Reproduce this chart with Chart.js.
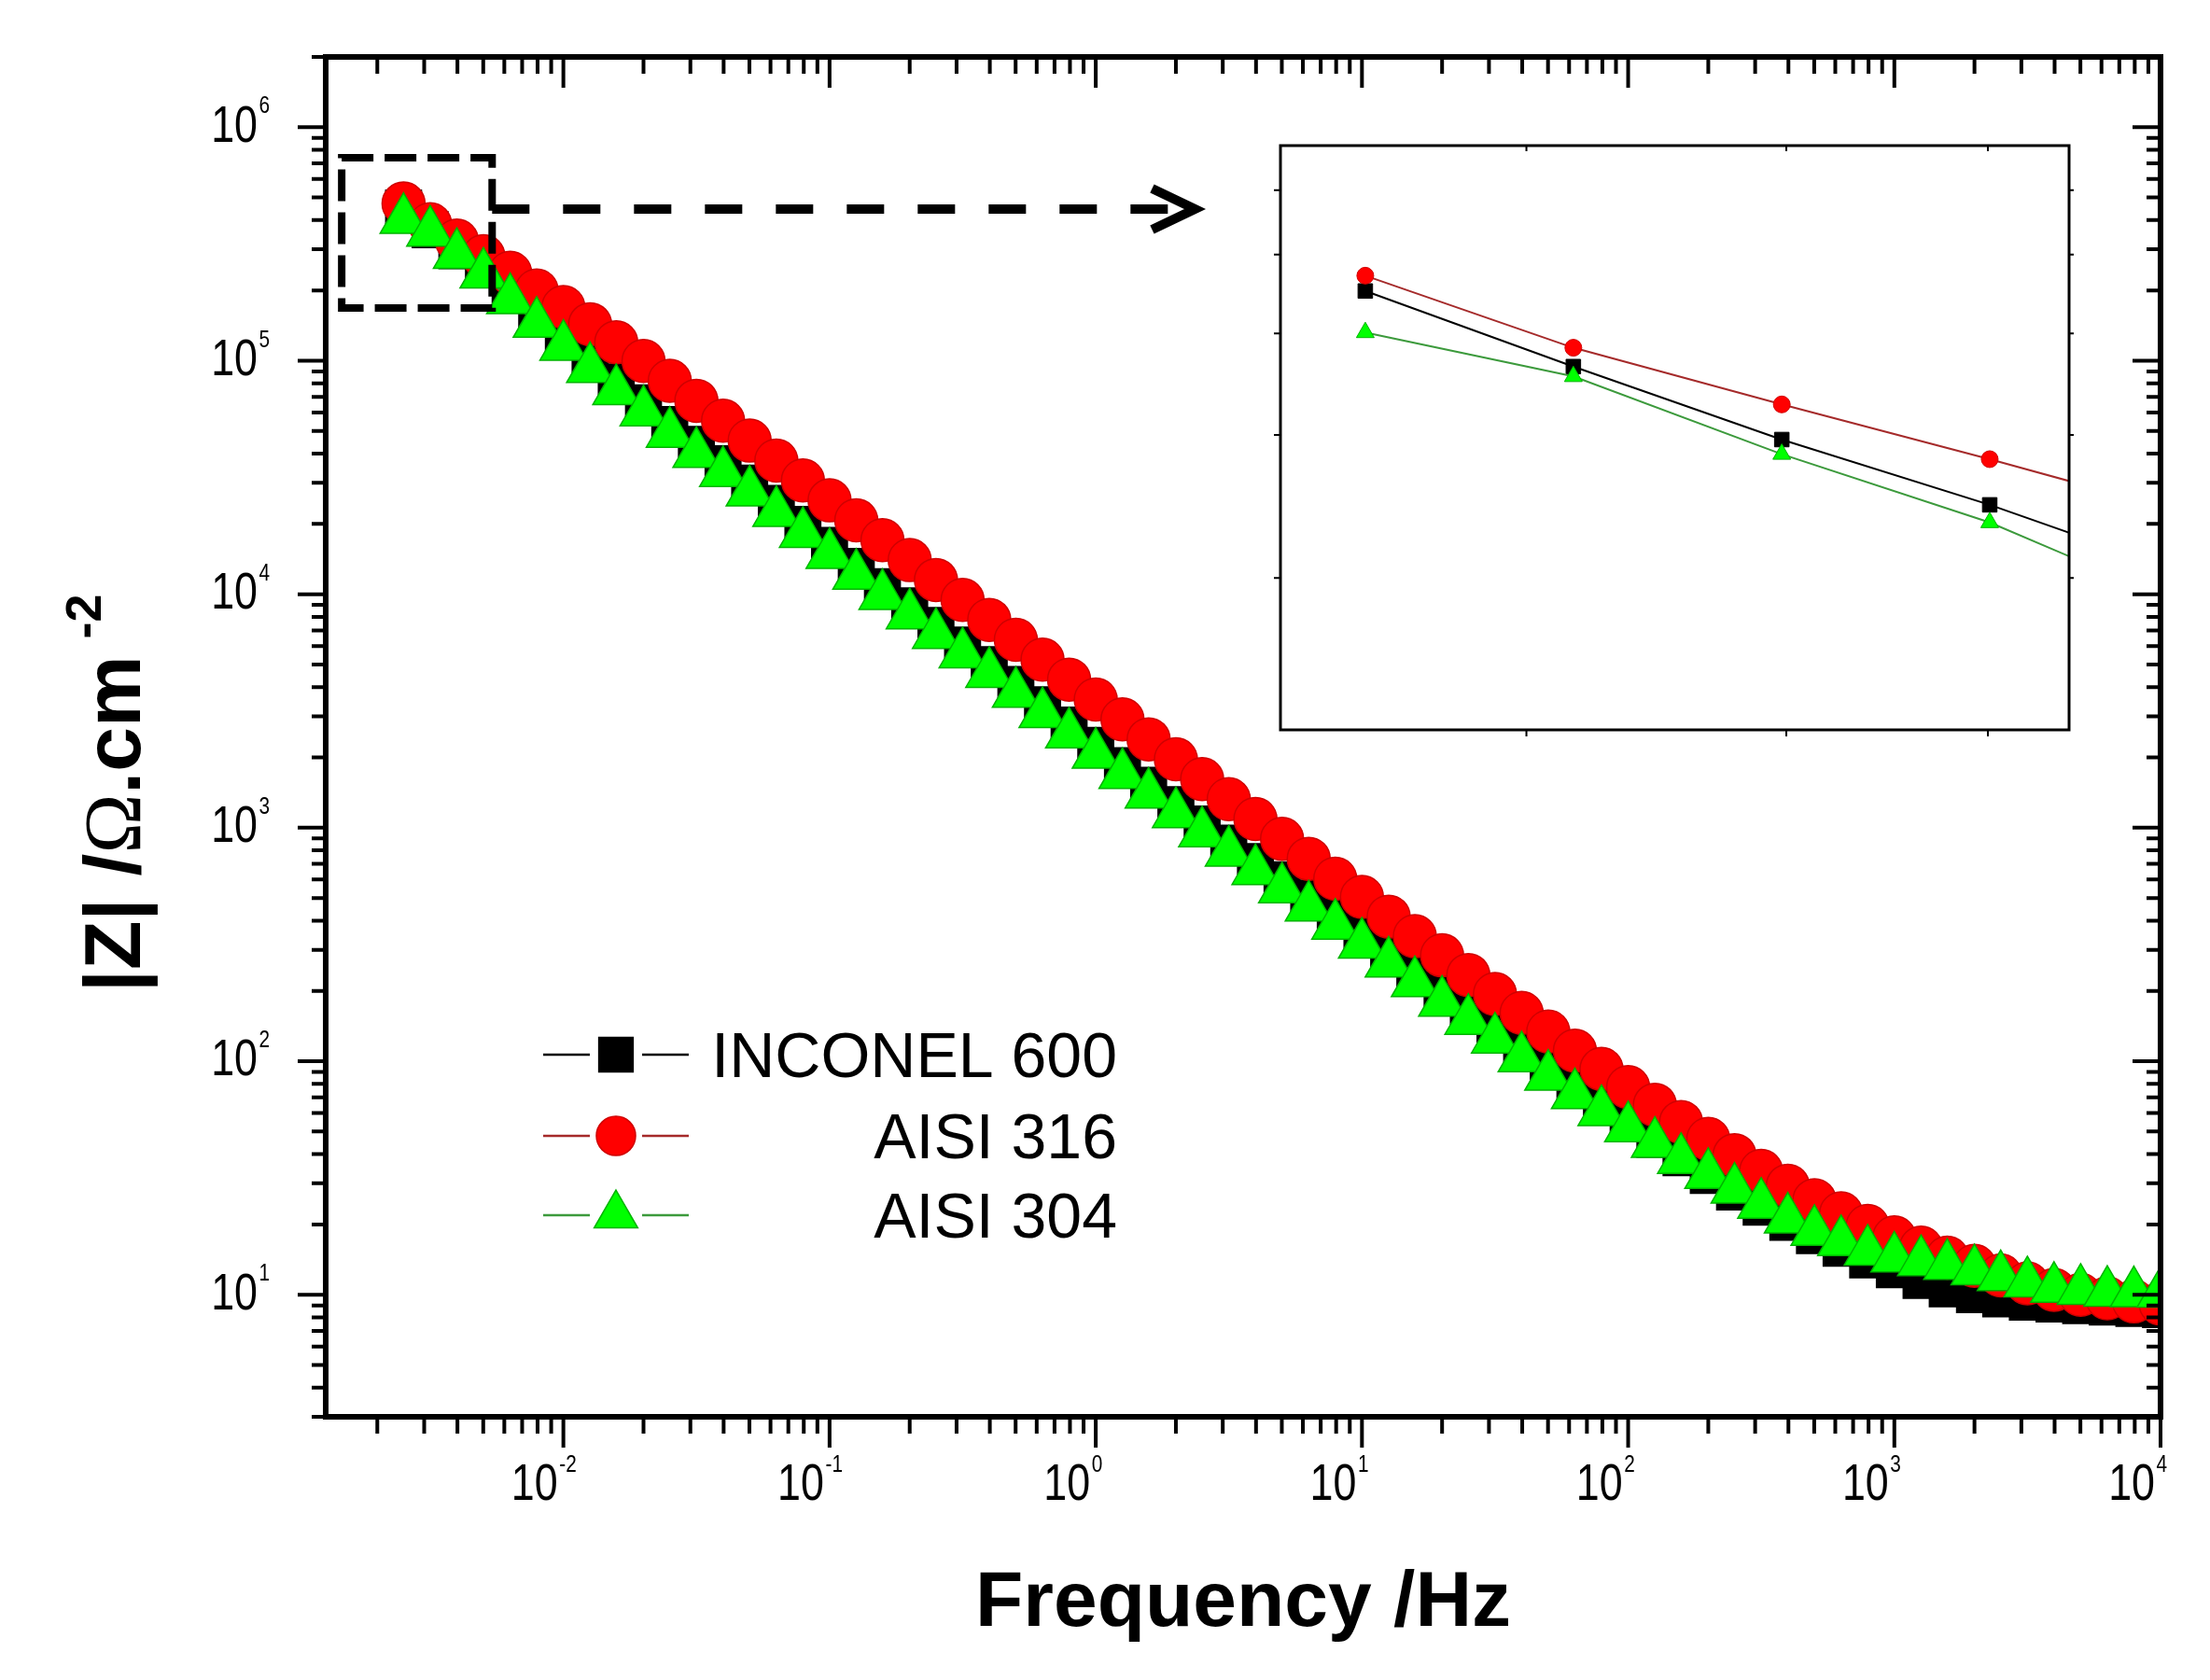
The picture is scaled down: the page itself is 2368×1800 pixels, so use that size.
<!DOCTYPE html>
<html>
<head>
<meta charset="utf-8">
<script src="https://cdn.jsdelivr.net/npm/chart.js@4.4.0/dist/chart.umd.min.js"></script>
<style>
html, body { margin: 0; padding: 0; background: #fff; }
#wrap { position: relative; width: 2368px; height: 1800px; }
#mainBox { position: absolute; left: 0; top: 0; width: 2368px; height: 1800px; }
#insetBox { position: absolute; left: 1342px; top: 126px; width: 905px; height: 686px; }
</style>
</head>
<body>
<div id="wrap">
  <div id="mainBox"><canvas id="mainChart"></canvas></div>
  <div id="insetBox"><canvas id="insetChart"></canvas></div>
</div>
<script>
// 頻率 (Hz)
var frequency = [0.00251, 0.00316, 0.00398, 0.00501, 0.00631, 0.00794, 0.01, 0.0126, 0.0158, 0.02,
  0.0251, 0.0316, 0.0398, 0.0501, 0.0631, 0.0794, 0.1, 0.126, 0.158, 0.2,
  0.251, 0.316, 0.398, 0.501, 0.631, 0.794, 1, 1.26, 1.58, 2,
  2.51, 3.16, 3.98, 5.01, 6.31, 7.94, 10, 12.6, 15.8, 20,
  25.1, 31.6, 39.8, 50.1, 63.1, 79.4, 100, 126, 158, 200,
  251, 316, 398, 501, 631, 794, 1000, 1260, 1580, 2000,
  2510, 3160, 3980, 5010, 6310, 7940, 10000];

// |Z| (Ω.cm-2)
var inconel600 = [451000, 364000, 296000, 246000, 200000, 158000, 125600, 101100, 81200, 66100,
  53300, 43800, 36200, 29900, 24500, 19900, 16180, 13150, 10780, 8911,
  7345, 6066, 5000, 4110, 3365, 2754, 2254, 1845, 1520, 1255,
  1038, 859, 716, 599, 500, 418, 347, 287, 237, 196,
  162, 135, 113, 94.1, 78.5, 65.6, 55.2, 46.3, 38.6, 32.4,
  27.5, 23.7, 20.4, 17.9, 15.8, 14.1, 12.8, 11.5, 10.6, 10.0,
  9.59, 9.29, 9.12, 8.97, 8.85, 8.73, 8.63];

var aisi316 = [471000, 384000, 327000, 280000, 238000, 200000, 169700, 143300, 119900, 99740,
  81980, 67360, 55350, 45480, 37370, 30700, 25230, 20730, 17030, 14000,
  11510, 9451, 7766, 6381, 5244, 4309, 3540, 2909, 2391, 1965,
  1615, 1326, 1090, 896, 736, 605, 505, 416, 343, 284,
  234, 194, 161, 134, 111, 92.6, 77.5, 65.1, 54.9, 46.5,
  39.6, 33.9, 29.3, 25.4, 22.3, 19.7, 17.6, 15.9, 14.4, 13.3,
  12.1, 11.2, 10.5, 10.0, 9.65, 9.36, 9.17];

var aisi304 = [401000, 354000, 284000, 234000, 182000, 144000, 114800, 92200, 74100, 60200,
  48700, 39900, 33030, 27280, 22330, 18150, 14750, 12000, 9839, 8127,
  6698, 5532, 4560, 3749, 3069, 2512, 2055, 1683, 1386, 1145,
  946, 783, 653, 545, 456, 381, 316, 262, 216, 178,
  149, 124, 103, 85.9, 71.6, 60.6, 51.7, 44.3, 37.8, 32.6,
  28.2, 24.3, 21.0, 18.6, 16.8, 15.3, 14.3, 13.8, 13.3, 12.6,
  11.9, 11.2, 10.6, 10.4, 10.2, 10.15, 10.1];

var seriesNames = ['INCONEL 600', 'AISI 316', 'AISI 304'];

// 刻度
var xDecades = [-3, -2, -1, 0, 1, 2, 3, 4];
var yDecades = [0, 1, 2, 3, 4, 5, 6];
var xLabelDecades = [-2, -1, 0, 1, 2, 3, 4];
var yLabelDecades = [1, 2, 3, 4, 5, 6];

// 放大圖 (前幾個點)
var insetCount = 6;
var insetXTicks = [0.003, 0.004, 0.005];
var insetYTicks = [200000, 300000, 400000, 500000, 600000];

// 虛線框與箭頭 (資料座標)
var zoomBoxX = [0.00147, 0.0054];
var zoomBoxY = [168000, 740000];
var arrowY = 446000;
var arrowTipX = 2.36;

var styles = [
  { line: '#000000', fill: '#000000', edge: '#000000', shape: 'rect', r: 27, lr: 26, ir: 11 },
  { line: '#a52a2a', fill: '#ff0000', edge: '#d00000', shape: 'circle', r: 23, lr: 21, ir: 9 },
  { line: '#3c9a3c', fill: '#00ff00', edge: '#00b400', shape: 'triangle', r: 29, lr: 27, ir: 11 }
];
var seriesData = [inconel600, aisi316, aisi304];
var seriesOrder = [2, 1, 0];

function points(vals, n) {
  var out = [];
  for (var i = 0; i < (n || vals.length); i++) out.push({ x: frequency[i], y: vals[i] });
  return out;
}

function niceTicks(decades, min, max) {
  var out = [];
  decades.forEach(function (e) {
    for (var m = 1; m <= 9; m++) {
      var v = m * Math.pow(10, e);
      if (v >= min * 0.9999 && v <= max * 1.0001) out.push({ v: v, major: m === 1 });
    }
  });
  return out;
}

// 畫 10 的次方標籤
function drawPow(ctx, exp, x, y) {
  ctx.save();
  ctx.translate(x, y);
  ctx.scale(0.8, 1);
  ctx.fillStyle = '#000';
  ctx.textBaseline = 'middle';
  ctx.font = '56px "Liberation Sans", Arial, sans-serif';
  ctx.textAlign = 'right';
  ctx.fillText('10', 0, 0);
  ctx.textAlign = 'left';
  ctx.font = '26px "Liberation Sans", Arial, sans-serif';
  ctx.fillText(String(exp), 2, -22);
  ctx.restore();
}

var mainDecor = {
  id: 'mainDecor',
  afterDraw: function (chart) {
    var ctx = chart.ctx, a = chart.chartArea;
    var xs = chart.scales.x, ys = chart.scales.y;
    ctx.save();

    // 框線
    ctx.strokeStyle = '#000';
    ctx.lineWidth = 6;
    ctx.strokeRect(a.left, a.top, a.right - a.left, a.bottom - a.top);

    // x 刻度: 下方朝外, 上方朝內
    ctx.lineWidth = 4;
    niceTicks(xDecades, xs.min, xs.max).forEach(function (t) {
      var px = xs.getPixelForValue(t.v);
      var len = t.major ? 33 : 18;
      ctx.beginPath();
      ctx.moveTo(px, a.bottom); ctx.lineTo(px, a.bottom + len);
      ctx.moveTo(px, a.top); ctx.lineTo(px, a.top + len);
      ctx.stroke();
    });
    // y 刻度: 左方朝外, 右方朝內
    niceTicks(yDecades, ys.min, ys.max).forEach(function (t) {
      var py = ys.getPixelForValue(t.v);
      var len = t.major ? 30 : 15;
      ctx.beginPath();
      ctx.moveTo(a.left, py); ctx.lineTo(a.left - len, py);
      ctx.moveTo(a.right, py); ctx.lineTo(a.right - len, py);
      ctx.stroke();
    });

    xLabelDecades.forEach(function (e) {
      drawPow(ctx, e, xs.getPixelForValue(Math.pow(10, e)) - 6, a.bottom + 74);
    });
    yLabelDecades.forEach(function (e) {
      drawPow(ctx, e, a.left - 73, ys.getPixelForValue(Math.pow(10, e)));
    });

    // 軸標題
    ctx.fillStyle = '#000';
    ctx.font = 'bold 84px "Liberation Sans", Arial, sans-serif';
    ctx.textAlign = 'center';
    ctx.textBaseline = 'alphabetic';
    ctx.fillText('Frequency /Hz', (a.left + a.right) / 2, 1742);

    ctx.save();
    ctx.translate(150, 1063);
    ctx.rotate(-Math.PI / 2);
    ctx.textAlign = 'left';
    var cx = 0;
    var parts = [
      ['|Z| /', 'bold 86px "Liberation Sans", Arial, sans-serif', 0],
      ['\u03A9', '86px "Liberation Serif", "Times New Roman", serif', 0],
      ['.cm', 'bold 86px "Liberation Sans", Arial, sans-serif', 0],
      ['-2', 'bold 54px "Liberation Sans", Arial, sans-serif', -42]
    ];
    parts.forEach(function (p) {
      ctx.font = p[1];
      if (p[2]) cx += 18;
      ctx.fillText(p[0], cx, p[2]);
      cx += ctx.measureText(p[0]).width;
    });
    ctx.restore();

    // 圖例
    var rowsY = [1130, 1217, 1302];
    styles.forEach(function (s, i) {
      var y = rowsY[i];
      ctx.strokeStyle = s.line;
      ctx.lineWidth = 2.5;
      ctx.beginPath();
      ctx.moveTo(582, y); ctx.lineTo(632, y);
      ctx.moveTo(688, y); ctx.lineTo(738, y);
      ctx.stroke();
      ctx.fillStyle = s.fill;
      ctx.strokeStyle = s.edge;
      ctx.lineWidth = 1.5;
      Chart.helpers.drawPoint(ctx, { pointStyle: s.shape, radius: s.lr, rotation: 0, borderWidth: 1.5 }, 660, y);
      ctx.fillStyle = '#000';
      ctx.font = '68px "Liberation Sans", Arial, sans-serif';
      ctx.textAlign = 'right';
      ctx.textBaseline = 'alphabetic';
      ctx.fillText(seriesNames[i], 1197, y + 24);
    });

    // 虛線框與箭頭
    var bx0 = xs.getPixelForValue(zoomBoxX[0]), bx1 = xs.getPixelForValue(zoomBoxX[1]);
    var by0 = ys.getPixelForValue(zoomBoxY[1]), by1 = ys.getPixelForValue(zoomBoxY[0]);
    ctx.strokeStyle = '#000';
    ctx.lineWidth = 8;
    ctx.setLineDash([34, 12]);
    ctx.strokeRect(bx0, by0, bx1 - bx0, by1 - by0);
    var ay = ys.getPixelForValue(arrowY), tipX = xs.getPixelForValue(arrowTipX);
    ctx.lineWidth = 10;
    ctx.setLineDash([40, 36]);
    ctx.beginPath();
    ctx.moveTo(bx1, ay); ctx.lineTo(tipX - 14, ay);
    ctx.stroke();
    ctx.setLineDash([]);
    ctx.beginPath();
    ctx.moveTo(tipX - 46, ay - 22); ctx.lineTo(tipX, ay); ctx.lineTo(tipX - 46, ay + 22);
    ctx.stroke();

    ctx.restore();
  }
};

var mainCtx = document.getElementById('mainChart').getContext('2d');
var mainChart = new Chart(mainCtx, {
  type: 'line',
  data: {
    datasets: seriesData.map(function (vals, i) {
      var s = styles[i];
      return {
        label: seriesNames[i],
        data: points(vals),
        borderColor: s.line,
        borderWidth: 2,
        pointStyle: s.shape,
        pointRadius: s.r,
        pointBackgroundColor: s.fill,
        pointBorderColor: s.edge,
        pointBorderWidth: 1.5,
        order: seriesOrder[i],
        clip: 0
      };
    })
  },
  options: {
    responsive: true,
    maintainAspectRatio: false,
    animation: false,
    events: [],
    layout: { padding: { left: 349, right: 53, top: 61, bottom: 282 } },
    plugins: { legend: { display: false }, tooltip: { enabled: false } },
    scales: {
      x: { type: 'logarithmic', min: 0.00128, max: 10000, display: false },
      y: { type: 'logarithmic', min: 3, max: 2000000, display: false }
    }
  },
  plugins: [mainDecor]
});

// 放大圖
var insetDecor = {
  id: 'insetDecor',
  afterDraw: function (chart) {
    var ctx = chart.ctx, a = chart.chartArea;
    var xs = chart.scales.x, ys = chart.scales.y;
    ctx.save();
    ctx.strokeStyle = '#000';
    ctx.lineWidth = 3;
    ctx.strokeRect(a.left, a.top, a.right - a.left, a.bottom - a.top);
    ctx.lineWidth = 2;
    insetXTicks.forEach(function (v) {
      var px = xs.getPixelForValue(v);
      ctx.beginPath();
      ctx.moveTo(px, a.top); ctx.lineTo(px, a.top + 6);
      ctx.moveTo(px, a.bottom); ctx.lineTo(px, a.bottom + 7);
      ctx.stroke();
    });
    insetYTicks.forEach(function (v) {
      var py = ys.getPixelForValue(v);
      ctx.beginPath();
      ctx.moveTo(a.left, py); ctx.lineTo(a.left - 7, py);
      ctx.moveTo(a.right, py); ctx.lineTo(a.right + 5, py);
      ctx.stroke();
    });
    ctx.restore();
  }
};

var insetCtx = document.getElementById('insetChart').getContext('2d');
var insetChart = new Chart(insetCtx, {
  type: 'line',
  data: {
    datasets: seriesData.map(function (vals, i) {
      var s = styles[i];
      return {
        label: seriesNames[i],
        data: points(vals, insetCount),
        borderColor: s.line,
        borderWidth: 2,
        pointStyle: s.shape,
        pointRadius: s.ir,
        pointBackgroundColor: s.fill,
        pointBorderColor: s.edge,
        pointBorderWidth: 1,
        order: seriesOrder[i],
        clip: 0
      };
    })
  },
  options: {
    responsive: true,
    maintainAspectRatio: false,
    animation: false,
    events: [],
    layout: { padding: 30 },
    plugins: { legend: { display: false }, tooltip: { enabled: false } },
    scales: {
      x: { type: 'logarithmic', min: 0.002285, max: 0.00547, display: false },
      y: { type: 'logarithmic', min: 130000, max: 681000, display: false }
    }
  },
  plugins: [insetDecor]
});
</script>
</body>
</html>
